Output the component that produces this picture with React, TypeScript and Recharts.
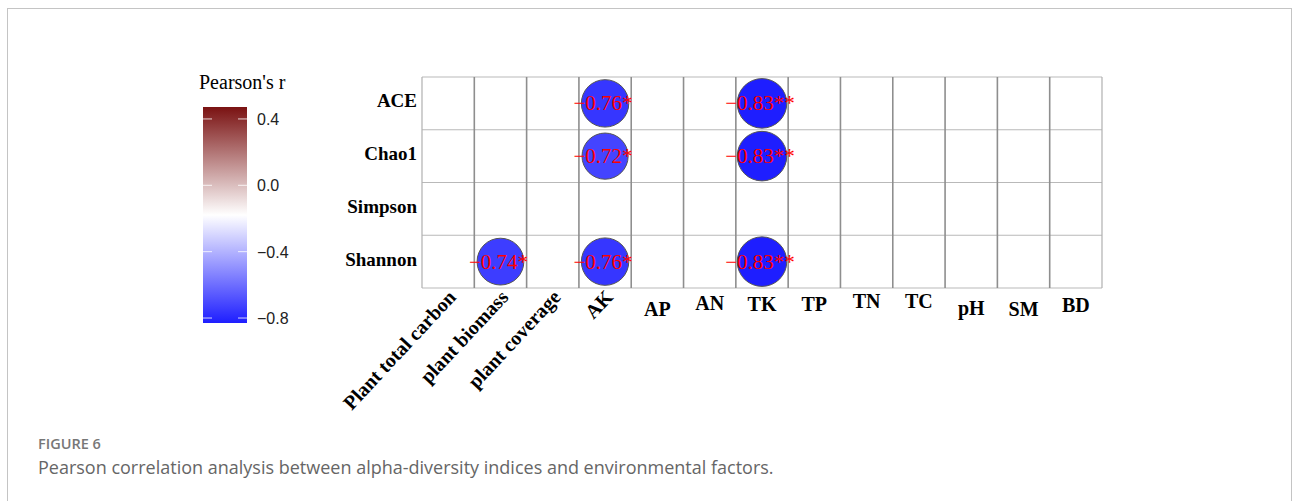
import React from 'react';
import { ScatterChart, Scatter, XAxis, YAxis, ReferenceLine } from 'recharts';

// Alpha-diversity indices (rows) and environmental factors (columns)
const rowNames = ['ACE', 'Chao1', 'Simpson', 'Shannon'];
const factorNames = [
  'Plant total carbon', 'plant biomass', 'plant coverage', 'AK', 'AP', 'AN',
  'TK', 'TP', 'TN', 'TC', 'pH', 'SM', 'BD',
];

// Significant Pearson correlations only
const cellRow = ['ACE', 'ACE', 'Chao1', 'Chao1', 'Shannon', 'Shannon', 'Shannon'];
const cellFactor = ['AK', 'TK', 'AK', 'TK', 'plant biomass', 'AK', 'TK'];
const cellR = [-0.76, -0.83, -0.72, -0.83, -0.74, -0.76, -0.83];
const cellStars = ['*', '**', '*', '**', '*', '*', '**'];

// Colour bar
const legendTicks = [0.4, 0.0, -0.4, -0.8];
const colorMin = -0.83;
const colorMax = 0.472;

const LOW = [30, 30, 255];
const MID = [255, 255, 255];
const HIGH = [122, 18, 18];

const W = 1293;
const H = 501;
const PLOT = { left: 422, top: 77, right: 1102, bottom: 288 };
const Y_AXIS_W = 100;
const X_AXIS_H = 130;
const CELL = (PLOT.right - PLOT.left) / factorNames.length;

const SERIF = '"Liberation Serif", "Times New Roman", serif';
const SANS = '"Liberation Sans", Arial, sans-serif';

function mix(a: number[], b: number[], t: number) {
  const c = a.map((v, i) => Math.round(v + (b[i] - v) * t));
  return `rgb(${c[0]},${c[1]},${c[2]})`;
}

function colorFor(v: number) {
  const mid = (colorMin + colorMax) / 2;
  if (v <= mid) return mix(MID, LOW, Math.min(1, (mid - v) / (mid - colorMin)));
  return mix(MID, HIGH, Math.min(1, (v - mid) / (colorMax - mid)));
}

function fmt(r: number, stars: string) {
  return `${r < 0 ? '\u2212' : ''}${Math.abs(r).toFixed(2)}${stars}`;
}

const data = cellR.map((r, i) => ({
  x: factorNames.indexOf(cellFactor[i]),
  y: rowNames.indexOf(cellRow[i]),
  r,
  stars: cellStars[i],
}));

const CorrCircle = (props: any) => {
  const { cx, cy, payload } = props;
  const radius = CELL * 0.52 * Math.sqrt(Math.abs(payload.r));
  return (
    <g>
      <circle cx={cx} cy={cy} r={radius} fill={colorFor(payload.r)} stroke="#555" strokeWidth={1} />
      <text
        x={cx - 2}
        y={cy + 7}
        textAnchor="middle"
        fontFamily={SERIF}
        fontSize={21}
        fill="#ff0000"
      >
        {fmt(payload.r, payload.stars)}
      </text>
    </g>
  );
};

// small vertical offsets of the horizontal factor labels
const xLabelNudge = [0, 0, 0, 0, 5, -1, 0, 0, -3, -3, 4, 5, 1];

const XTick = (props: any) => {
  const { x, y, payload } = props;
  const i = payload.value as number;
  const name = factorNames[i];
  if (name === undefined) return null;
  if (i < 4) {
    const ax = x + 9;
    const ay = y + 10;
    return (
      <text
        x={ax}
        y={ay}
        transform={`rotate(-47 ${ax} ${ay})`}
        textAnchor="end"
        fontFamily={SERIF}
        fontWeight="bold"
        fontSize={20}
        fill="#000"
      >
        {name}
      </text>
    );
  }
  return (
    <text
      x={x}
      y={y + 23 + xLabelNudge[i]}
      textAnchor="middle"
      fontFamily={SERIF}
      fontWeight="bold"
      fontSize={20}
      fill="#000"
    >
      {name}
    </text>
  );
};

const YTick = (props: any) => {
  const { x, y, payload } = props;
  const name = rowNames[payload.value as number];
  if (name === undefined) return null;
  return (
    <text x={x - 5} y={y + 4} textAnchor="end" fontFamily={SERIF} fontWeight="bold" fontSize={19} fill="#000">
      {name}
    </text>
  );
};

const ColorBar = () => {
  const barTop = 107;
  const barBottom = 323;
  const barLeft = 203;
  const barRight = 247;
  const scale = (v: number) => barTop + ((colorMax - v) / (colorMax - colorMin)) * (barBottom - barTop);
  return (
    <svg width={W} height={H} style={{ position: 'absolute', left: 0, top: 0, pointerEvents: 'none' }}>
      <defs>
        <linearGradient id="pearsonGrad" x1="0" y1="0" x2="0" y2="1">
          <stop offset="0" stopColor={mix(MID, HIGH, 1)} />
          <stop offset="0.5" stopColor={mix(MID, HIGH, 0)} />
          <stop offset="1" stopColor={mix(MID, LOW, 1)} />
        </linearGradient>
      </defs>
      <text x={199} y={89} fontFamily={SERIF} fontSize={20} fill="#000">
        Pearson's r
      </text>
      <rect x={barLeft} y={barTop} width={barRight - barLeft} height={barBottom - barTop} fill="url(#pearsonGrad)" />
      {legendTicks.map((t) => (
        <g key={t}>
          <line x1={barLeft} x2={barLeft + 9} y1={scale(t)} y2={scale(t)} stroke="#fff" strokeOpacity={0.8} strokeWidth={1} />
          <line x1={barRight - 9} x2={barRight} y1={scale(t)} y2={scale(t)} stroke="#fff" strokeOpacity={0.8} strokeWidth={1} />
          <text x={barRight + 10} y={scale(t) + 6} fontFamily={SANS} fontSize={16} fill="#222">
            {`${t < 0 ? '\u2212' : ''}${Math.abs(t).toFixed(1)}`}
          </text>
        </g>
      ))}
      <text x={38} y={449} fontFamily='"Open Sans", sans-serif' fontWeight={600} fontSize={14.5} fill="#777">
        FIGURE 6
      </text>
      <text x={38} y={474} fontFamily='"Open Sans", sans-serif' fontSize={18} fill="#666">
        Pearson correlation analysis between alpha-diversity indices and environmental factors.
      </text>
    </svg>
  );
};

export default function App() {
  const nX = factorNames.length;
  const nY = rowNames.length;
  const xBounds = Array.from({ length: nX + 1 }, (_, i) => i - 0.5);
  const yBounds = Array.from({ length: nY + 1 }, (_, i) => i - 0.5);
  return (
    <div style={{ position: 'absolute', left: 0, top: 0, width: W, height: H, background: '#fff', overflow: 'hidden' }}>
      <div
        style={{
          position: 'absolute',
          left: 7,
          top: 8,
          width: W - 8,
          height: H,
          border: '1px solid #c4c4c4',
          borderBottom: 'none',
          boxSizing: 'border-box',
        }}
      />
      <div style={{ position: 'absolute', left: 0, top: 0 }}>
        <ScatterChart
          width={W}
          height={H}
          margin={{
            top: PLOT.top,
            right: W - PLOT.right,
            left: PLOT.left - Y_AXIS_W,
            bottom: H - PLOT.bottom - X_AXIS_H,
          }}
        >
          <XAxis
            type="number"
            dataKey="x"
            domain={[-0.5, nX - 0.5]}
            ticks={factorNames.map((_, i) => i)}
            interval={0}
            height={X_AXIS_H}
            axisLine={false}
            tickLine={false}
            tickSize={0}
            tickMargin={0}
            tick={<XTick />}
            allowDataOverflow
          />
          <YAxis
            type="number"
            dataKey="y"
            domain={[-0.5, nY - 0.5]}
            ticks={rowNames.map((_, i) => i)}
            interval={0}
            reversed
            width={Y_AXIS_W}
            axisLine={false}
            tickLine={false}
            tickSize={0}
            tickMargin={0}
            tick={<YTick />}
            allowDataOverflow
          />
          {yBounds.map((b) => (
            <ReferenceLine key={`h${b}`} y={b} stroke="#b9b9b9" strokeWidth={1.2} />
          ))}
          {xBounds.map((b, i) => (
            <ReferenceLine
              key={`v${b}`}
              x={b}
              stroke={i === 0 || i === nX ? '#b0b0b0' : '#8e8e8e'}
              strokeWidth={i === 0 || i === nX ? 1.2 : 1.6}
            />
          ))}
          <Scatter data={data} shape={<CorrCircle />} isAnimationActive={false} />
        </ScatterChart>
      </div>
      <ColorBar />
    </div>
  );
}
